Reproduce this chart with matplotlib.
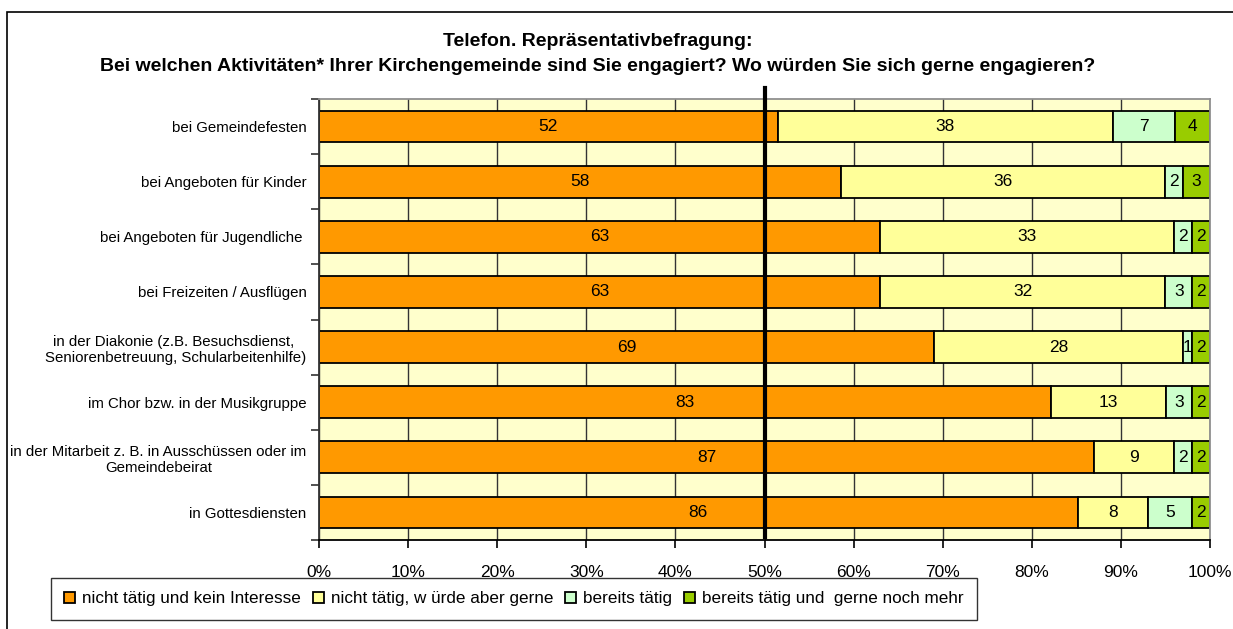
import numpy as np
import matplotlib
matplotlib.use("Agg")
import matplotlib.pyplot as plt
from matplotlib.patches import Rectangle, Patch
from matplotlib.ticker import FixedLocator, PercentFormatter

plt.rcParams["font.family"] = ["Liberation Sans", "DejaVu Sans"]

# ==========================================================
#  Daten
# ==========================================================
TITLE = ("Telefon. Repräsentativbefragung:\n"
         "Bei welchen Aktivitäten* Ihrer Kirchengemeinde sind Sie engagiert? Wo würden Sie sich gerne engagieren?")

categories = [
    "bei Gemeindefesten",
    "bei Angeboten für Kinder",
    "bei Angeboten für Jugendliche ",
    "bei Freizeiten / Ausflügen",
    "in der Diakonie (z.B. Besuchsdienst, \nSeniorenbetreuung, Schularbeitenhilfe)",
    "im Chor bzw. in der Musikgruppe",
    "in der Mitarbeit z. B. in Ausschüssen oder im\nGemeindebeirat",
    "in Gottesdiensten",
]

kein_interesse = [52, 58, 63, 63, 69, 83, 87, 86]
wuerde_gerne = [38, 36, 33, 32, 28, 13, 9, 8]
bereits_taetig = [7, 2, 2, 3, 1, 3, 2, 5]
gerne_mehr = [4, 3, 2, 2, 2, 2, 2, 2]

series_names = [
    "nicht tätig und kein Interesse",
    "nicht tätig, w ürde aber gerne",
    "bereits tätig",
    "bereits tätig und  gerne noch mehr",
]
colors = ["#FF9900", "#FFFF99", "#CCFFCC", "#99CC00"]

x_ticks = [0, 10, 20, 30, 40, 50, 60, 70, 80, 90, 100]

# ==========================================================
#  Plot
# ==========================================================
fig = plt.figure(figsize=(12.33, 6.29), dpi=100)
ax = fig.add_axes([319 / 1233, 1 - 540 / 629, 891 / 1233, 441 / 629])
ax.set_facecolor("#FFFFCC")

# Rahmen um das Diagramm
fig.patches.append(Rectangle((7 / 1233, -0.05), 1.1, 1 - 12 / 629 + 0.05,
                             transform=fig.transFigure, fill=False,
                             edgecolor="black", linewidth=1.2))

data = np.array([kein_interesse, wuerde_gerne, bereits_taetig, gerne_mehr], dtype=float)
share = data / data.sum(axis=0) * 100
y = np.arange(len(categories))

left = np.zeros(len(categories))
for i in range(len(series_names)):
    ax.barh(y, share[i], left=left, height=0.575, color=colors[i],
            edgecolor="black", linewidth=1.3, label=series_names[i], zorder=2)
    for j in range(len(categories)):
        ax.text(left[j] + share[i][j] / 2, y[j], f"{int(data[i][j])}",
                ha="center", va="center", fontsize=12.5, zorder=3)
    left += share[i]

ax.set_xlim(0, 100)
ax.set_ylim(len(categories) - 0.5, -0.5)
ax.xaxis.set_major_locator(FixedLocator(x_ticks))
ax.xaxis.set_major_formatter(PercentFormatter(decimals=0))
ax.grid(axis="x", color="#333333", linewidth=1.0, zorder=1)
ax.set_axisbelow(True)

ax.set_yticks(np.arange(len(categories) + 1) - 0.5, minor=False)
ax.set_yticklabels([])
ax.set_yticks(y, minor=True)
ax.set_yticklabels(categories, minor=True, fontsize=10.8, multialignment="center")
ax.tick_params(axis="y", which="minor", length=0, pad=9)
ax.tick_params(axis="y", which="major", length=6, width=1.2, color="#333333")
ax.tick_params(axis="x", length=6, width=1.2, labelsize=12.5, pad=12)

for s in ["top", "right"]:
    ax.spines[s].set_color("#909090")
    ax.spines[s].set_linewidth(1.3)
ax.spines["left"].set_color("#333333")
ax.spines["left"].set_linewidth(1.3)
ax.spines["bottom"].set_linewidth(1.3)

# 50%-Linie
ax.plot([50, 50], [1.025, 0.007], color="black", linewidth=3,
        transform=ax.get_xaxis_transform(), clip_on=False, zorder=5)

fig.text(598 / 1233, 1 - 54 / 629, TITLE, ha="center", va="center",
         fontsize=14, fontweight="bold", linespacing=1.6)

handles = [Patch(facecolor=c, edgecolor="black", linewidth=1.3) for c in colors]
fig.legend(handles, series_names, loc="center", bbox_to_anchor=(514 / 1233, 1 - 599 / 629),
           ncol=4, fontsize=12.3, frameon=True, fancybox=False, edgecolor="black",
           handlelength=0.65, handleheight=0.65, handletextpad=0.4, columnspacing=0.7,
           borderpad=0.8, borderaxespad=0)

fig.savefig("out.png", dpi=100)
